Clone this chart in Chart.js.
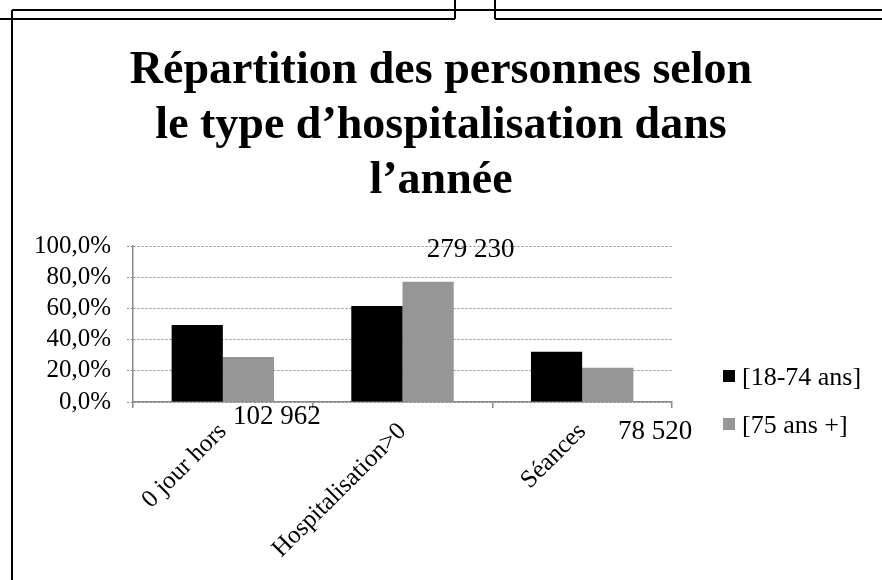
<!DOCTYPE html>
<html>
<head>
<meta charset="utf-8">
<script src="https://cdn.jsdelivr.net/npm/chart.js@4"></script>
<style>
  html,body{margin:0;padding:0;background:#fff;}
  #wrap{width:882px;height:580px;position:relative;}
</style>
</head>
<body>
<div id="wrap"><canvas id="hospiChart" width="882" height="580"></canvas></div>
<script>
    // Data
    const categories = ['0 jour hors', 'Hospitalisation>0', 'Séances'];
    const seriesNames = ['[18-74 ans]', '[75 ans +]'];
    const pct18_74 = [49.4, 61.5, 32.2];
    const pct75plus = [28.8, 77.1, 22.0];
    const effectifs = ['102 962', '279 230', '78 520'];
    const titleLines = ['Répartition des personnes selon', 'le type d\u2019hospitalisation dans', 'l\u2019année'];

    const serif = "'Liberation Serif','Times New Roman',serif";
    const gray = '#969696';
    const axisGray = '#8a8a8a';

    // frame lines, count labels and legend drawn around the plot
    const extras = {
      id:'extras',
      afterDraw(chart){
        const ctx = chart.ctx;
        const x = chart.scales.x, area = chart.chartArea;
        ctx.save();
        // slide frame
        ctx.strokeStyle = '#000'; ctx.lineWidth = 2;
        ctx.beginPath();
        ctx.moveTo(12,10); ctx.lineTo(882,10);
        ctx.moveTo(0,19); ctx.lineTo(455,19);
        ctx.moveTo(495,19); ctx.lineTo(882,19);
        ctx.moveTo(455,0); ctx.lineTo(455,19);
        ctx.moveTo(495,0); ctx.lineTo(495,19);
        ctx.moveTo(12,10); ctx.lineTo(12,580);
        ctx.stroke();

        // counts
        const offs = [[54,15],[68,-152],[73,30]];
        ctx.fillStyle = '#000';
        ctx.font = '27px ' + serif;
        ctx.textAlign = 'center'; ctx.textBaseline = 'middle';
        effectifs.forEach((t,i)=>{
          ctx.fillText(t, x.getPixelForValue(i) + offs[i][0], area.bottom + offs[i][1]);
        });

        // legend
        ctx.font = '26px ' + serif;
        ctx.textAlign = 'left';
        chart.data.datasets.forEach((ds,i)=>{
          const cy = 376 + i*48;
          ctx.fillStyle = ds.backgroundColor;
          ctx.fillRect(723, cy-6, 12, 12);
          ctx.fillStyle = '#000';
          ctx.fillText(ds.label, 742, cy+2);
        });
        ctx.restore();
      }
    };

    const ctx = document.getElementById('hospiChart').getContext('2d');
    new Chart(ctx, {
      type:'bar',
      data:{
        labels: categories,
        datasets:[
          {label: seriesNames[0], data: pct18_74, backgroundColor:'#000000'},
          {label: seriesNames[1], data: pct75plus, backgroundColor: gray}
        ]
      },
      options:{
        responsive:false,
        animation:false,
        layout:{padding:0},
        datasets:{bar:{barPercentage:1, categoryPercentage:0.57}},
        plugins:{
          legend:{display:false},
          tooltip:{enabled:false},
          title:{
            display:true,
            text: titleLines,
            color:'#000',
            font:{family:serif, size:46, weight:'bold', lineHeight:55/46},
            padding:{top:44,bottom:37}
          }
        },
        scales:{
          y:{
            min:0, max:100,
            ticks:{stepSize:20, autoSkip:false, color:'#000', padding:16, font:{family:serif,size:25},
              callback:v=> v.toFixed(1).replace('.',',') + '%'},
            grid:{color:axisGray, lineWidth:1, tickLength:6, tickBorderDash:[2,2]},
            border:{display:true, color:axisGray, width:1.5, dash:[2,2]},
            afterFit:s=>{ s.width = 133; }
          },
          // empty right axis keeps room for the legend
          side:{
            type:'linear', position:'right', display:true,
            ticks:{display:false}, grid:{display:false}, border:{display:false},
            afterFit:s=>{ s.width = 210; }
          },
          x:{
            ticks:{color:'#000', minRotation:45, maxRotation:45, autoSkip:false, padding:9,
              font:{family:serif,size:25}},
            grid:{display:true, drawOnChartArea:false, offset:true, color:axisGray, tickLength:6, lineWidth:1.5},
            border:{display:true, color:axisGray, width:1.5},
            afterFit:s=>{ s.height = 178; }
          }
        }
      },
      plugins:[extras]
    });
</script>
</body>
</html>
